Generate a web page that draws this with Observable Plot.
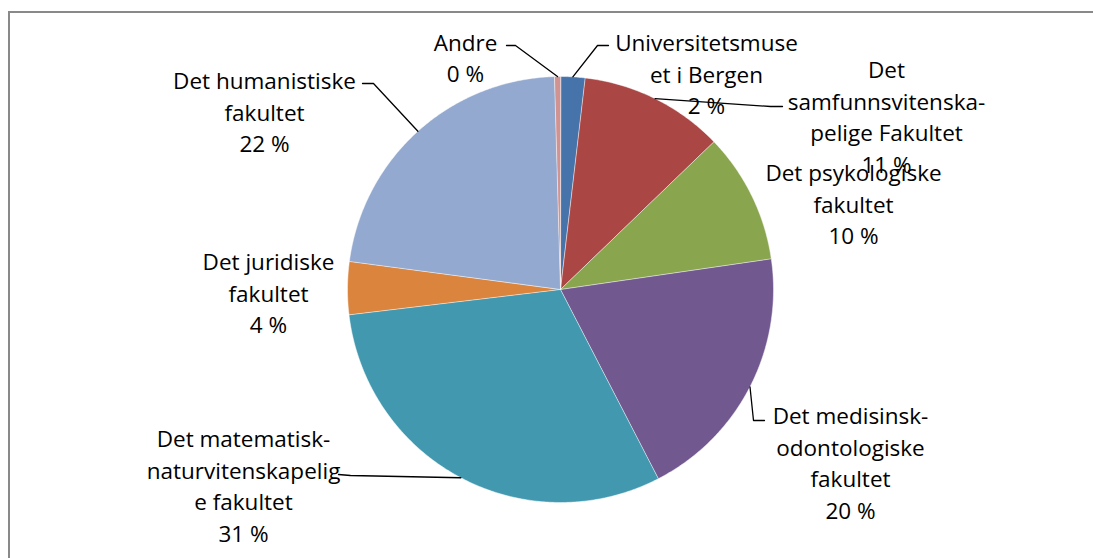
<!DOCTYPE html>
<html><head><meta charset="utf-8">
<script src="https://cdn.jsdelivr.net/npm/d3@7"></script>
<script src="https://cdn.jsdelivr.net/npm/@observablehq/plot@0.6"></script>
<style>
html,body{margin:0;padding:0;background:#fff;overflow:hidden}
#wrap{position:relative;width:1093px;height:558px}
#frame{position:absolute;left:8px;top:11px;width:1200px;height:700px;border-left:2px solid #898989;border-top:2px solid #898989;box-sizing:border-box;pointer-events:none}
#chart{position:absolute;left:0;top:0}
</style></head><body><div id="wrap"><div id="chart"></div><div id="frame"></div></div>
<script>
// ---- data ----
const faculties = [
  "Universitetsmuseet i Bergen",
  "Det samfunnsvitenskapelige Fakultet",
  "Det psykologiske fakultet",
  "Det medisinsk-odontologiske fakultet",
  "Det matematisk-naturvitenskapelige fakultet",
  "Det juridiske fakultet",
  "Det humanistiske fakultet",
  "Andre"
];
const shares = [1.85, 10.95, 9.9, 19.7, 30.7, 4.0, 22.45, 0.45];
// label text as wrapped in the reference
const labelLines = [
  ["Universitetsmuse", "et i Bergen"],
  ["Det", "samfunnsvitenska-", "pelige Fakultet"],
  ["Det psykologiske", "fakultet"],
  ["Det medisinsk-", "odontologiske", "fakultet"],
  ["Det matematisk-", "naturvitenskapelig", "e fakultet"],
  ["Det juridiske", "fakultet"],
  ["Det humanistiske", "fakultet"],
  ["Andre"]
];
const sliceColors = ["#4674AA", "#AA4644", "#89A54E", "#71588F", "#4198AF", "#DB843D", "#93A9CF", "#D19392"];

// ---- layout (pixels) ----
const W = 1093, H = 558, CX = 560, CY = 289, R = 213;
const labelCenters = [[706,72],[886,115],[853,202],[850,461],[243,484],[268,291],[264,110],[465,56]];
const leaderKnees = [
  [[608,45],[597,45]],
  [[782,106],[770,106]],
  [],
  [[764,420],[753,420]],
  [[338,474],[350,475]],
  [],
  [[362,83],[373,83]],
  [[506,45],[515,45]]
];
const toUnit = ([px, py]) => [(px - CX) / R, (CY - py) / R];

// ---- geometry from data ----
const total = d3.sum(shares);
const arcs = d3.pie().sort(null).value(d => d)(shares);
const slicePts = [];
arcs.forEach((a, i) => {
  slicePts.push({name: faculties[i], x: 0, y: 0});
  const n = Math.max(2, Math.ceil((a.endAngle - a.startAngle) / (Math.PI / 360)));
  for (let k = 0; k <= n; k++) {
    const t = a.startAngle + (a.endAngle - a.startAngle) * k / n;
    slicePts.push({name: faculties[i], x: Math.sin(t), y: Math.cos(t)});
  }
});
const labels = faculties.map((f, i) => {
  const [x, y] = toUnit(labelCenters[i]);
  const pct = Math.round(shares[i] / total * 100) + " %";
  return {name: f, x, y, text: [...labelLines[i], pct].join("\n")};
});
const leaders = [];
arcs.forEach((a, i) => {
  if (!leaderKnees[i].length) return;
  const m = (a.startAngle + a.endAngle) / 2;
  leaderKnees[i].forEach(p => { const [x, y] = toUnit(p); leaders.push({name: faculties[i], x, y}); });
  leaders.push({name: faculties[i], x: Math.sin(m), y: Math.cos(m)});
});

const chart = Plot.plot({
  width: W, height: H,
  margin: 0,
  x: {domain: [-CX / R, (W - CX) / R], axis: null},
  y: {domain: [-(H - CY) / R, CY / R], axis: null},
  color: {domain: faculties, range: sliceColors},
  marks: [
    Plot.line(slicePts, {x: "x", y: "y", z: "name", fill: "name", stroke: "#ffffff", strokeWidth: 0.6, strokeOpacity: 0.8, curve: "linear-closed"}),
    Plot.text(labels, {x: "x", y: "y", text: "text", fontSize: 22.5, lineHeight: 1.4, fontFamily: "'Open Sans', sans-serif", fill: "#000"}),
    Plot.line(leaders, {x: "x", y: "y", z: "name", stroke: "#000", strokeWidth: 1.3})
  ]
});
document.getElementById("chart").appendChild(chart);
</script>
</body></html>
